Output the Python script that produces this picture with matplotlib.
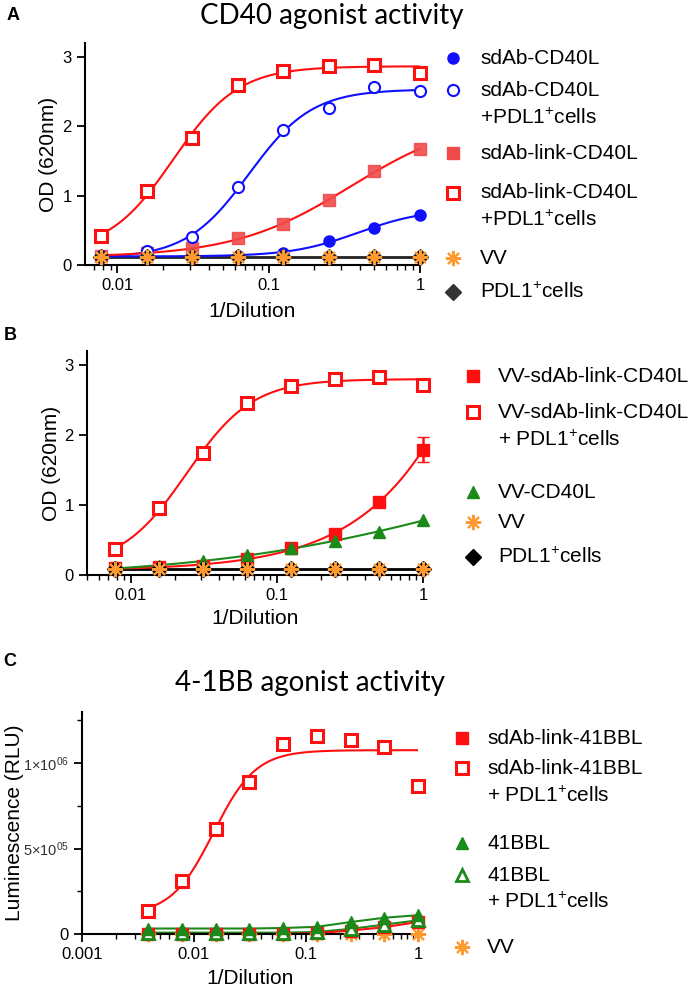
import numpy as np
import matplotlib
matplotlib.use('Agg')
import matplotlib.pyplot as plt
from matplotlib.lines import Line2D
from matplotlib.ticker import FixedLocator, NullFormatter

plt.rcParams['font.family'] = ['Liberation Sans', 'DejaVu Sans']
plt.rcParams['mathtext.fontset'] = 'custom'
plt.rcParams['mathtext.rm'] = 'Liberation Sans'
plt.rcParams['mathtext.it'] = 'Liberation Sans'

W, H = 699, 988

# dilution series
dil_ab = [0.0078125, 0.015625, 0.03125, 0.0625, 0.125, 0.25, 0.5, 1.0]
dil_c = [0.00390625, 0.0078125, 0.015625, 0.03125, 0.0625, 0.125, 0.25, 0.5, 1.0]

# panel A, OD 620nm
a_sdab = [0.13, 0.13, 0.13, 0.13, 0.18, 0.34, 0.54, 0.72]
a_sdab_pdl1 = [0.13, 0.20, 0.40, 1.12, 1.94, 2.27, 2.56, 2.51]
a_link = [0.13, 0.17, 0.25, 0.39, 0.59, 0.93, 1.36, 1.67]
a_link_pdl1 = [0.42, 1.06, 1.83, 2.60, 2.79, 2.87, 2.89, 2.77]
a_vv = [0.12, 0.12, 0.12, 0.12, 0.12, 0.12, 0.12, 0.12]
a_pdl1 = [0.12, 0.12, 0.12, 0.12, 0.12, 0.12, 0.12, 0.12]

# panel B, OD 620nm
b_vv_link = [0.10, 0.11, 0.13, 0.23, 0.39, 0.58, 1.05, 1.79]
b_vv_link_err = [0, 0, 0, 0, 0, 0, 0, 0.18]
b_vv_link_pdl1 = [0.37, 0.96, 1.74, 2.45, 2.70, 2.80, 2.83, 2.71]
b_vv_cd40l = [0.10, 0.13, 0.20, 0.28, 0.38, 0.49, 0.62, 0.78]
b_vv = [0.09, 0.09, 0.09, 0.09, 0.09, 0.09, 0.09, 0.09]
b_pdl1 = [0.09, 0.09, 0.09, 0.09, 0.09, 0.09, 0.09, 0.09]

# panel C, luminescence (RLU)
c_link = [0, 0, 0, 0, 0, 5000, 20000, 40000, 70000]
c_link_pdl1 = [137000, 312000, 613000, 889000, 1111000, 1156000, 1137000, 1094000, 867000]
c_41bbl = [32000, 32000, 32000, 32000, 35000, 42000, 70000, 95000, 110000]
c_41bbl_pdl1 = [8000, 8000, 8000, 8000, 8000, 12000, 30000, 55000, 80000]
c_vv = [0, 0, 0, 0, 0, 0, 0, 0, 0]

RED = '#ff1010'
LRED = '#f04a4a'
BLUE = '#1010ff'
GREEN = '#1a8a1a'
ORANGE = '#ff9a30'


def fit4pl(x, y):
    # four parameter logistic fit (Levenberg-Marquardt) on log10 x
    lx = np.log10(np.asarray(x, float))
    y = np.asarray(y, float)

    def f(p, t):
        with np.errstate(over='ignore'):
            return p[0] + (p[1] - p[0]) / (1 + 10 ** ((p[2] - t) * p[3]))

    mid = (y.min() + y.max()) / 2
    p = np.array([y.min(), y.max(), lx[np.argmin(np.abs(y - mid))], 1.0])
    lam = 1e-3
    sse = np.sum((y - f(p, lx)) ** 2)
    for _ in range(3000):
        J = np.empty((len(lx), 4))
        for k in range(4):
            dp = np.zeros(4)
            dp[k] = 1e-6
            J[:, k] = (f(p + dp, lx) - f(p - dp, lx)) / 2e-6
        r = y - f(p, lx)
        A = J.T @ J
        try:
            step = np.linalg.solve(A + lam * (np.diag(np.diag(A)) + 1e-9 * np.eye(4)), J.T @ r)
        except np.linalg.LinAlgError:
            lam *= 10
            continue
        pn = p + step
        sn = np.sum((y - f(pn, lx)) ** 2)
        if np.isfinite(sn) and sn < sse:
            p, sse, lam = pn, sn, lam * 0.3
        else:
            lam *= 10
        if lam > 1e12:
            break
    return lambda xs: f(p, np.log10(xs))


def curve(ax, x, y, color, lw=1.5):
    xs = np.logspace(np.log10(x[0]), np.log10(x[-1]), 300)
    ax.plot(xs, fit4pl(x, y)(xs), color=color, lw=lw, zorder=2)


def style_axis(ax, xlim, ylim):
    ax.set_xscale('log')
    ax.set_xlim(*xlim)
    ax.set_ylim(*ylim)
    for s in ['top', 'right']:
        ax.spines[s].set_visible(False)
    for s in ['left', 'bottom']:
        ax.spines[s].set_linewidth(1.5)
    ax.tick_params(which='major', length=6, width=1.3, labelsize=12)
    ax.tick_params(which='minor', length=3.5, width=1.0)
    ax.xaxis.set_minor_formatter(NullFormatter())


def fx(px):
    return px / W


def fy(py):
    return 1 - py / H


def leg(fig, xm, xt, y, text, **mk):
    if mk:
        fig.add_artist(Line2D([fx(xm)], [fy(y)], transform=fig.transFigure,
                              linestyle='none', **mk))
    fig.text(fx(xt), fy(y), text, fontsize=15, va='center', ha='left')


fig = plt.figure(figsize=(W / 100, H / 100), dpi=100)

sq_open = dict(marker='s', ms=8.5, mfc='white', mec=RED, mew=2.2)
circ_open = dict(marker='o', ms=8, mfc='white', mec=BLUE, mew=1.5)
circ_fill = dict(marker='o', ms=8, mfc=BLUE, mec=BLUE, mew=1)
sq_fill_l = dict(marker='s', ms=8, mfc=LRED, mec=LRED, mew=1)
sq_fill = dict(marker='s', ms=8, mfc=RED, mec=RED, mew=1)
star = dict(marker=(8, 2, 0), ms=11, mec=ORANGE, mfc=ORANGE, mew=1.5)
tri_fill = dict(marker='^', ms=8.5, mfc=GREEN, mec=GREEN, mew=1)
tri_open = dict(marker='^', ms=8.5, mfc='white', mec=GREEN, mew=2)

# ---------------- Panel A ----------------
axA = fig.add_axes([85 / W, 1 - 265 / H, 335 / W, 222 / H])
style_axis(axA, (0.0061, 1.0), (0, 3.2))
axA.set_yticks([0, 1, 2, 3])
axA.set_xticks([0.01, 0.1, 1])
axA.set_xticklabels(['0.01', '0.1', '1'])
axA.plot([dil_ab[0], dil_ab[-1]], [np.mean(a_vv), np.mean(a_vv)], color='#222222', lw=2, zorder=2)
curve(axA, dil_ab, a_sdab, BLUE)
curve(axA, dil_ab, a_sdab_pdl1, BLUE)
curve(axA, dil_ab, a_link, RED)
curve(axA, dil_ab, a_link_pdl1, RED)
axA.plot(dil_ab, a_sdab, ls='none', clip_on=False, zorder=3, **circ_fill)
axA.plot(dil_ab, a_link, ls='none', clip_on=False, zorder=3, alpha=0.9, **sq_fill_l)
axA.plot(dil_ab, a_sdab_pdl1, ls='none', clip_on=False, zorder=4, **circ_open)
axA.plot(dil_ab, a_link_pdl1, ls='none', clip_on=False, zorder=4, **sq_open)
axA.plot(dil_ab, a_pdl1, ls='none', marker='D', ms=8, color='#222222', clip_on=False, zorder=5)
axA.plot(dil_ab, a_vv, ls='none', clip_on=False, zorder=6, **star)
axA.set_ylabel('OD (620nm)', fontsize=15)
axA.set_xlabel('1/Dilution', fontsize=15)
axA.yaxis.label.set_va('center')
axA.xaxis.label.set_va('center')
axA.yaxis.set_label_coords(-0.11, 0.5)
axA.xaxis.set_label_coords(0.5, -0.21)

fig.text(fx(13), fy(15), 'A', fontsize=13, fontweight='bold', ha='center', va='center')
fig.text(fx(332), fy(16), 'CD40 agonist activity', fontsize=20, family='Lato',
         ha='center', va='center')

xm, xt = 453, 480
leg(fig, xm, xt, 58, 'sdAb-CD40L', **circ_fill)
leg(fig, xm, xt, 90, 'sdAb-CD40L', **circ_open)
leg(fig, xm, xt, 118, '+PDL1$^{+}$cells')
leg(fig, xm, xt, 153, 'sdAb-link-CD40L', **sq_fill_l)
leg(fig, xm, xt, 193, 'sdAb-link-CD40L', **sq_open)
leg(fig, xm, xt, 220, '+PDL1$^{+}$cells')
leg(fig, xm, xt, 258, 'VV', **star)
leg(fig, xm, xt, 292, 'PDL1$^{+}$cells', marker='D', ms=8, color='#333333')

# ---------------- Panel B ----------------
axB = fig.add_axes([87 / W, 1 - 575 / H, 336 / W, 224 / H])
style_axis(axB, (0.005, 1.0), (0, 3.2))
axB.set_yticks([0, 1, 2, 3])
axB.set_xticks([0.01, 0.1, 1])
axB.set_xticklabels(['0.01', '0.1', '1'])
axB.plot([dil_ab[0], dil_ab[-1]], [np.mean(b_vv), np.mean(b_vv)], color='black', lw=2, zorder=2)
curve(axB, dil_ab, b_vv_link, RED)
curve(axB, dil_ab, b_vv_link_pdl1, RED)
curve(axB, dil_ab, b_vv_cd40l, GREEN)
axB.errorbar(dil_ab, b_vv_link, yerr=b_vv_link_err, ls='none', ecolor=RED,
             elinewidth=1.8, capsize=4, capthick=1.8, clip_on=False, zorder=3, **sq_fill)
axB.plot(dil_ab, b_vv_cd40l, ls='none', clip_on=False, zorder=4, **tri_fill)
axB.plot(dil_ab, b_vv_link_pdl1, ls='none', clip_on=False, zorder=4, **sq_open)
axB.plot(dil_ab, b_pdl1, ls='none', marker='D', ms=8, color='black', clip_on=False, zorder=5)
axB.plot(dil_ab, b_vv, ls='none', clip_on=False, zorder=6, **star)
axB.set_ylabel('OD (620nm)', fontsize=15)
axB.set_xlabel('1/Dilution', fontsize=15)
axB.yaxis.label.set_va('center')
axB.xaxis.label.set_va('center')
axB.yaxis.set_label_coords(-0.105, 0.5)
axB.xaxis.set_label_coords(0.5, -0.193)

fig.text(fx(10), fy(335), 'B', fontsize=13, fontweight='bold', ha='center', va='center')

xm, xt = 473, 498
leg(fig, xm, xt, 376, 'VV-sdAb-link-CD40L', **sq_fill)
leg(fig, xm, xt, 412, 'VV-sdAb-link-CD40L', **sq_open)
leg(fig, xm, xt, 440, '+ PDL1$^{+}$cells')
leg(fig, xm, xt, 492, 'VV-CD40L', **tri_fill)
leg(fig, xm, xt, 522, 'VV', **star)
leg(fig, xm, xt, 557, 'PDL1$^{+}$cells', marker='D', ms=8, color='black')

# ---------------- Panel C ----------------
axC = fig.add_axes([82 / W, 1 - 934 / H, 336 / W, 222.3 / H])
style_axis(axC, (0.001, 1.0), (0, 1.3e6))
axC.set_xticks([0.001, 0.01, 0.1, 1])
axC.set_xticklabels(['0.001', '0.01', '0.1', '1'])
axC.set_yticks([0, 5e5, 1e6])
axC.set_yticklabels(['0', '5×10$^{05}$', '1×10$^{06}$'])
for lab in axC.get_yticklabels()[1:]:
    lab.set_fontsize(10.5)
    lab.set_color('#333333')
axC.yaxis.set_minor_locator(FixedLocator([2.5e5, 7.5e5, 1.25e6]))
axC.plot(dil_c, c_41bbl, color=GREEN, lw=1.5, zorder=2)
axC.plot(dil_c, c_41bbl_pdl1, color=GREEN, lw=1.5, zorder=2)
axC.plot(dil_c, c_link, color=RED, lw=1.5, zorder=2)
curve(axC, dil_c, c_link_pdl1, RED)
axC.plot(dil_c, c_vv, ls='none', clip_on=False, zorder=3, **star)
axC.plot(dil_c, c_link, ls='none', clip_on=False, zorder=4, **sq_fill)
axC.plot(dil_c, c_41bbl_pdl1, ls='none', clip_on=False, zorder=5, **tri_open)
axC.plot(dil_c, c_41bbl, ls='none', clip_on=False, zorder=6, **tri_fill)
axC.plot(dil_c, c_link_pdl1, ls='none', clip_on=False, zorder=6, **sq_open)
axC.set_ylabel('Luminescence (RLU)', fontsize=15)
axC.set_xlabel('1/Dilution', fontsize=15)
axC.yaxis.label.set_va('center')
axC.xaxis.label.set_va('center')
axC.yaxis.set_label_coords(-0.2, 0.5)
axC.xaxis.set_label_coords(0.5, -0.198)

fig.text(fx(10), fy(661), 'C', fontsize=13, fontweight='bold', ha='center', va='center')
fig.text(fx(310), fy(683), '4-1BB agonist activity', fontsize=20, family='Lato',
         ha='center', va='center')

xm, xt = 462, 487
leg(fig, xm, xt, 738, 'sdAb-link-41BBL', **sq_fill)
leg(fig, xm, xt, 768, 'sdAb-link-41BBL', **sq_open)
leg(fig, xm, xt, 796, '+ PDL1$^{+}$cells')
leg(fig, xm, xt, 843, '41BBL', **tri_fill)
leg(fig, xm, xt, 875, '41BBL', **tri_open)
leg(fig, xm, xt, 902, '+ PDL1$^{+}$cells')
leg(fig, xm, xt, 947, 'VV', **star)

fig.savefig('out.png', dpi=100)
